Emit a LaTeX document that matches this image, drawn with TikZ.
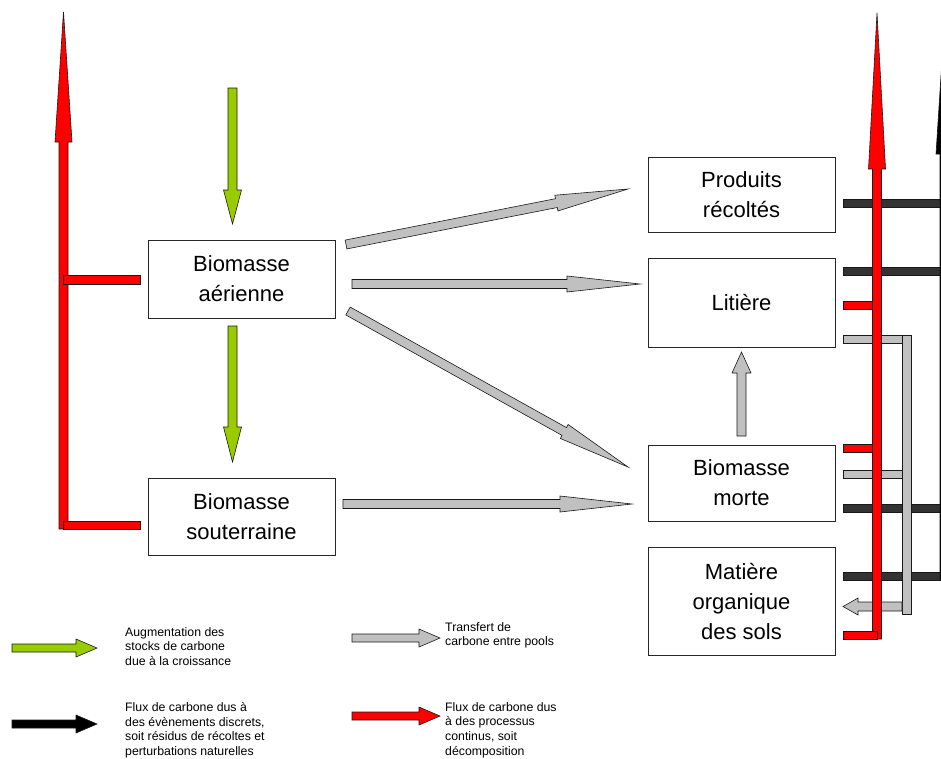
\documentclass[tikz,border=0pt]{standalone}
\usepackage{fontspec}
\setmainfont{Liberation Sans}
\usetikzlibrary{calc}
\definecolor{grn}{HTML}{99CC00}
\definecolor{gry}{HTML}{C0C0C0}
\definecolor{drk}{HTML}{333333}
\definecolor{rd}{HTML}{FF0000}
\tikzset{
 box/.style={draw=black!85, line width=0.9pt, minimum width=187pt, align=center, inner sep=0pt, font=\fontsize{22}{30}\selectfont},
 shp/.style={draw=black!90, line width=0.6pt, line join=miter},
 leg/.style={anchor=north west, align=left, inner sep=0pt, font=\fontsize{12.3}{14.8}\selectfont},
}
\newcommand\blockarrow[6]{%
 \coordinate (ba-h) at ($(#2)!#5!(#1)$);
 \draw[shp,fill=#6] ($(#1)!#3!90:(#2)$) -- ($(ba-h)!#3!90:(#2)$) -- ($(ba-h)!#4!90:(#2)$) -- (#2) -- ($(ba-h)!#4!-90:(#2)$) -- ($(ba-h)!#3!-90:(#2)$) -- ($(#1)!#3!-90:(#2)$) -- cycle;}
\begin{document}
\begin{tikzpicture}[x=1pt,y=-1pt]
\useasboundingbox (0,0) rectangle (941,758);
\fill[white] (0,0) rectangle (941,758);

% boxes
\node[box, minimum height=78pt] (aer) at (241.5,279) {Biomasse\\aérienne};
\node[box, minimum height=77pt] (sout) at (241.5,516.5) {Biomasse\\souterraine};
\node[box, minimum height=75pt] (prod) at (741.5,194.5) {Produits\\récoltés};
\node[box, minimum height=89pt] (lit) at (741.5,302.5) {Litière};
\node[box, minimum height=76pt] (morte) at (741.5,483) {Biomasse\\morte};
\node[box, minimum height=108pt] (mos) at (741.5,601) {Matière\\organique\\des sols};

% left red flux
\draw[shp,fill=rd] (59,529) -- (59,142) -- (55,142) -- (63.5,12) -- (72,142) -- (68,142) -- (68,529) -- cycle;
\draw[shp,fill=rd] (63,275) rectangle (140,284);
\draw[shp,fill=rd] (63,521) rectangle (140,529);

% green growth arrows
\coordinate (g1a) at (232.5,88); \coordinate (g1b) at (232.5,224);
\blockarrow{g1a}{g1b}{4.5pt}{9pt}{34pt}{grn}
\coordinate (g2a) at (232.5,326); \coordinate (g2b) at (232.5,462);
\blockarrow{g2a}{g2b}{4.5pt}{9pt}{35pt}{grn}

% grey transfers
\coordinate (t1a) at (346,244.5); \coordinate (t1b) at (628,189);
\blockarrow{t1a}{t1b}{4.5pt}{8pt}{73pt}{gry}
\coordinate (t2a) at (352,284); \coordinate (t2b) at (640,284);
\blockarrow{t2a}{t2b}{4.5pt}{8pt}{73pt}{gry}
\coordinate (t3a) at (348,311); \coordinate (t3b) at (628,467);
\blockarrow{t3a}{t3b}{4.5pt}{8pt}{73pt}{gry}
\coordinate (t4a) at (343,504); \coordinate (t4b) at (632,504);
\blockarrow{t4a}{t4b}{4.5pt}{8pt}{72pt}{gry}
\coordinate (t5a) at (741.5,436); \coordinate (t5b) at (741.5,352);
\blockarrow{t5a}{t5b}{4.5pt}{9.5pt}{21pt}{gry}

% dark discrete-event bars (underneath)
\foreach \yy in {199,267,504.5,572}{
 \draw[shp,fill=drk] (843,\yy) rectangle (945,\yy+8);
}
% black arrow cut by the right edge
\begin{scope}
\clip (0,0) rectangle (941,758);
\draw[shp,fill=black] (940,580) -- (940,154) -- (936,154) -- (945,13) -- (954,154) -- (950,154) -- (950,580) -- cycle;
\end{scope}

% right side grey collector
\draw[shp,fill=gry] (902,335) rectangle (911,614);
\draw[shp,fill=gry] (843,335) rectangle (902,343);
\draw[shp,fill=gry] (843,470) rectangle (902,478);
\coordinate (t6a) at (902,606.5); \coordinate (t6b) at (843,606.5);
\blockarrow{t6a}{t6b}{4.5pt}{8.5pt}{15pt}{gry}

% right red flux
\draw[shp,fill=rd] (872.5,639) -- (872.5,169) -- (868.5,169) -- (877,13) -- (885.5,169) -- (881.5,169) -- (881.5,639) -- cycle;
\draw[shp,fill=rd] (843,301) rectangle (872.5,309);
\draw[shp,fill=rd] (843,444) rectangle (872.5,452);
\draw[shp,fill=rd] (843,631) rectangle (877,639);

% legend
\coordinate (l1a) at (12,648); \coordinate (l1b) at (97,648);
\blockarrow{l1a}{l1b}{4pt}{9pt}{21pt}{grn}
\node[leg] (lt1) at (125,627) {Augmentation des\\stocks de carbone\\due à la croissance};
\coordinate (l2a) at (352,638); \coordinate (l2b) at (440,638);
\blockarrow{l2a}{l2b}{4pt}{9pt}{21pt}{gry}
\node[leg] (lt2) at (445,622) {Transfert de\\carbone entre pools};
\coordinate (l3a) at (12,724); \coordinate (l3b) at (97,724);
\blockarrow{l3a}{l3b}{4pt}{9pt}{21pt}{black}
\node[leg] (lt3) at (125,702) {Flux de carbone dus à\\des évènements discrets,\\soit résidus de récoltes et\\perturbations naturelles};
\coordinate (l4a) at (352,716); \coordinate (l4b) at (440,716);
\blockarrow{l4a}{l4b}{4pt}{9pt}{21pt}{rd}
\node[leg] (lt4) at (445,702) {Flux de carbone dus\\à des processus\\continus, soit\\décomposition};
\end{tikzpicture}
\end{document}
